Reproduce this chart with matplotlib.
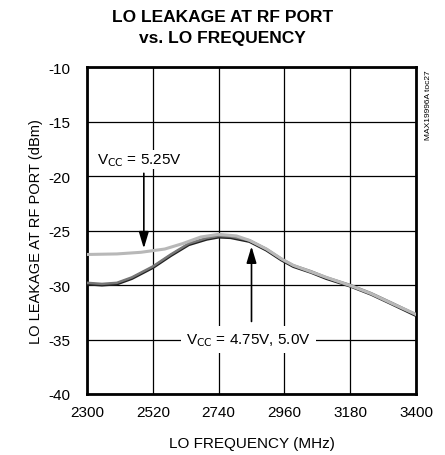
import matplotlib
matplotlib.use("Agg")
import matplotlib.pyplot as plt
from matplotlib import font_manager as fm

names = {f.name for f in fm.fontManager.ttflist}
narrow = "Liberation Sans Narrow" if "Liberation Sans Narrow" in names else "Liberation Sans"
plt.rcParams['font.family'] = [narrow, 'DejaVu Sans']

# data
freq_525 = [2300, 2400, 2480, 2560, 2620, 2680, 2740, 2800, 2843, 2900, 2950, 2990, 3050, 3100, 3180, 3250, 3320, 3400]
lk_525 = [-27.2, -27.15, -27.0, -26.7, -26.2, -25.6, -25.35, -25.5, -25.9, -26.7, -27.6, -28.2, -28.8, -29.3, -30.05, -30.8, -31.7, -32.7]
freq_5 = [2300, 2350, 2400, 2450, 2520, 2580, 2640, 2700, 2740, 2780, 2843, 2900, 2950, 2990, 3050, 3100, 3180, 3250, 3320, 3400]
lk_475 = [-29.9, -30.0, -29.9, -29.4, -28.4, -27.3, -26.3, -25.8, -25.6, -25.65, -26.0, -26.8, -27.7, -28.3, -28.85, -29.4, -30.1, -30.85, -31.75, -32.8]
lk_500 = [-29.8, -29.9, -29.8, -29.3, -28.3, -27.2, -26.2, -25.7, -25.5, -25.55, -25.9, -26.7, -27.6, -28.2, -28.75, -29.3, -30.0, -30.75, -31.65, -32.7]
xticks = [2300, 2520, 2740, 2960, 3180, 3400]
yticks = [-40, -35, -30, -25, -20, -15, -10]

fig = plt.figure(figsize=(4.45, 4.56), dpi=100)
ax = fig.add_axes([87/445, 1-395/456, (416-87)/445, (395-68)/456])
ax.set_xlim(2300, 3400)
ax.set_ylim(-40, -10)
ax.set_xticks(xticks)
ax.set_yticks(yticks)
ax.set_xticklabels([str(v) for v in xticks], fontsize=11)
ax.set_yticklabels([str(v) for v in yticks], fontsize=11)
ax.tick_params(axis='x', length=0, pad=8)
ax.tick_params(axis='y', length=0, pad=12)
ax.grid(True, color='black', linewidth=0.9)
for s in ax.spines.values():
    s.set_linewidth(2.0)
ax.set_axisbelow(True)

ax.plot(freq_5, lk_475, color='#222222', linewidth=2.2, zorder=3)
ax.plot(freq_5, lk_500, color='#777777', linewidth=1.8, zorder=3)
ax.plot(freq_525, lk_525, color='#b8b8b8', linewidth=2.2, zorder=4)

ax.set_xlabel("LO FREQUENCY (MHz)", fontsize=11, labelpad=12)
ax.set_ylabel("LO LEAKAGE AT RF PORT (dBm)", fontsize=10.5)
ax.yaxis.set_label_coords(-0.133, 0.5)

fig.text(0.5, 1-28/456, "LO LEAKAGE AT RF PORT\nvs. LO FREQUENCY", ha='center', va='center',
         fontsize=12.5, fontweight='bold', linespacing=1.55)

ax.text(2475, -18.5, r"V$_{\mathrm{CC}}$ = 5.25V", ha='center', va='center', fontsize=11,
        bbox=dict(facecolor='white', edgecolor='none', pad=1), zorder=5)
ax.annotate("", xy=(2490, -26.9), xytext=(2490, -19.5),
            arrowprops=dict(arrowstyle='-|>,head_length=1.0,head_width=0.3', color='black', lw=1.2), zorder=6)

ax.text(2840, -35.0, r"V$_{\mathrm{CC}}$ = 4.75V, 5.0V", ha='center', va='center', fontsize=11,
        bbox=dict(facecolor='white', edgecolor='none', pad=4), zorder=5)
ax.annotate("", xy=(2850, -26.2), xytext=(2850, -33.6),
            arrowprops=dict(arrowstyle='-|>,head_length=1.0,head_width=0.3', color='black', lw=1.2), zorder=6)

fig.text(428/445, 1-105/456, "MAX19996A toc27", rotation=90, ha='center', va='center', fontsize=6)

fig.savefig("out.png", dpi=100)
